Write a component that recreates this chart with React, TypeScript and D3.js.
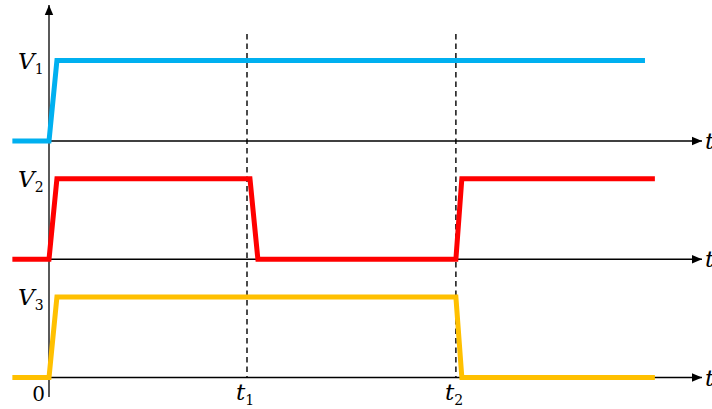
import React from "react";
import * as d3 from "d3";

// Time points (abstract units: t1 = 2, t2 ≈ 4.11)
const markers = [
  { t: 0, label: "0", sub: "" },
  { t: 2, label: "t", sub: "1" },
  { t: 4.11, label: "t", sub: "2" },
];
const panels = ["V1", "V2", "V3"];
const panelLabels = [
  { v: "V", sub: "1" },
  { v: "V", sub: "2" },
  { v: "V", sub: "3" },
];
const v1Time = [-0.37, 0, 0.08, 6.02];
const v1Level = [0, 0, 1, 1];
const v2Time = [-0.37, 0, 0.08, 2.03, 2.11, 4.11, 4.17, 6.12];
const v2Level = [0, 0, 1, 1, 0, 0, 1, 1];
const v3Time = [-0.37, 0, 0.08, 4.11, 4.17, 6.12];
const v3Level = [0, 0, 1, 1, 0, 0];
const colors = ["#00B0F0", "#FF0000", "#FFC000"];

const W = 712;
const H = 409;

export default function App() {
  const x = d3.scaleLinear().domain([0, 2]).range([49, 247]);
  const base = d3.scalePoint<string>().domain(panels).range([141, 377.5]);
  const lvl = d3.scaleLinear().domain([0, 1]).range([0, -80.5]);
  const series = [
    { t: v1Time, v: v1Level },
    { t: v2Time, v: v2Level },
    { t: v3Time, v: v3Level },
  ];
  const axisEnd = 697;
  const serif = "'DejaVu Serif', 'Liberation Serif', serif";

  return (
    <svg
      width={W}
      height={H}
      style={{ position: "absolute", left: 0, top: 0, background: "#fff" }}
    >
      <defs>
        <marker
          id="arr"
          viewBox="0 0 10 10"
          refX="10"
          refY="5"
          markerWidth="10"
          markerHeight="10"
          markerUnits="userSpaceOnUse"
          orient="auto"
        >
          <path d="M0,0.8 L10,5 L0,9.2 Z" fill="#000" />
        </marker>
      </defs>
      {/* dashed marker lines */}
      {markers.slice(1).map((m, i) => (
        <line
          key={"d" + i}
          x1={x(m.t)}
          x2={x(m.t)}
          y1={34}
          y2={378}
          stroke="#111"
          strokeWidth={1.5}
          strokeDasharray="5.5 4"
        />
      ))}
      {/* vertical axis */}
      <line
        x1={x(0)}
        x2={x(0)}
        y1={397}
        y2={5}
        stroke="#000"
        strokeWidth={1.3}
        markerEnd="url(#arr)"
      />
      {/* time axes */}
      {panels.map((p) => (
        <g key={"ax" + p}>
          <line
            x1={x(0)}
            x2={axisEnd + 5}
            y1={base(p)}
            y2={base(p)}
            stroke="#000"
            strokeWidth={1.3}
            markerEnd="url(#arr)"
          />
          <text
            x={705}
            y={(base(p) as number) + 8}
            fontFamily={serif}
            fontStyle="italic"
            fontSize={23}
            fill="#000"
          >
            t
          </text>
        </g>
      ))}
      {/* waveforms */}
      {series.map((s, i) => {
        const pts: [number, number][] = s.t.map((t, j) => [
          x(t),
          (base(panels[i]) as number) + lvl(s.v[j]),
        ]);
        return (
          <path
            key={"w" + i}
            d={d3.line()(pts) || ""}
            fill="none"
            stroke={colors[i]}
            strokeWidth={5}
            strokeLinejoin="miter"
          />
        );
      })}
      {/* panel labels */}
      {panelLabels.map((l, i) => {
        const y = (base(panels[i]) as number) + lvl(1) + 8;
        return (
          <text
            key={"l" + i}
            x={18}
            y={y}
            fontFamily={serif}
            fontSize={23}
            fill="#000"
          >
            <tspan fontStyle="italic">{l.v}</tspan>
            <tspan fontSize={14} dy={5}>
              {l.sub}
            </tspan>
          </text>
        );
      })}
      {/* time marker labels */}
      {markers.map((m, i) =>
        m.sub ? (
          <text
            key={"m" + i}
            x={x(m.t) - 11}
            y={400}
            fontFamily={serif}
            fontSize={23}
            fill="#000"
          >
            <tspan fontStyle="italic">{m.label}</tspan>
            <tspan fontSize={14} dy={5}>
              {m.sub}
            </tspan>
          </text>
        ) : (
          <text
            key={"m" + i}
            x={x(m.t) - 4}
            y={401}
            textAnchor="end"
            fontFamily={serif}
            fontSize={20}
            fill="#000"
          >
            {m.label}
          </text>
        )
      )}
    </svg>
  );
}
